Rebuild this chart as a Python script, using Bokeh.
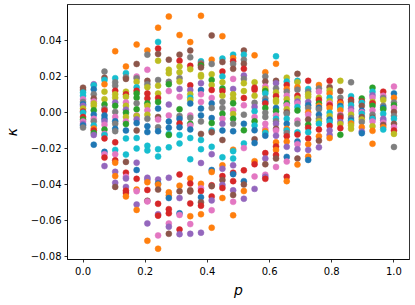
from bokeh.plotting import figure
from bokeh.models import ColumnDataSource, Range1d, FixedTicker
from bokeh.embed import file_html
from bokeh.resources import INLINE

# p values: 30 evenly spaced columns from 0 to 1
p_values = [i / 29 for i in range(30)]

# colour codes (matplotlib tab10 cycle)
palette = {"b": "#1f77b4", "o": "#ff7f0e", "g": "#2ca02c", "r": "#d62728", "u": "#9467bd",
           "n": "#8c564b", "k": "#e377c2", "y": "#7f7f7f", "l": "#bcbd22", "c": "#17becf"}

# kappa values read per column as (kappa, colour code)
col00 = [(0.0137,"n"),(0.0124,"n"),(0.0110,"c"),(0.0092,"c"),(0.0073,"k"),(0.0058,"y"),(0.0045,"b"),(0.0036,"u"),(0.0021,"l"),(0.0005,"r"),(-0.0002,"c"),(-0.0026,"r"),(-0.0040,"g"),(-0.0051,"k"),(-0.0065,"u"),(-0.0073,"b"),(-0.0085,"y")]
col01 = [(0.0156,"u"),(0.0150,"c"),(0.0128,"b"),(0.0100,"y"),(0.0077,"n"),(0.0060,"k"),(0.0049,"l"),(0.0036,"l"),(0.0011,"g"),(-0.0013,"b"),(-0.0036,"k"),(-0.0050,"y"),(-0.0073,"c"),(-0.0090,"o"),(-0.0101,"r"),(-0.0115,"g"),(-0.0126,"u"),(-0.0180,"b")]
col02 = [(0.0227,"y"),(0.0193,"n"),(0.0180,"c"),(0.0156,"o"),(0.0115,"l"),(0.0073,"l"),(0.0043,"g"),(0.0021,"y"),(0.0010,"r"),(-0.0017,"b"),(-0.0036,"b"),(-0.0050,"u"),(-0.0069,"k"),(-0.0096,"g"),(-0.0120,"k"),(-0.0126,"c"),(-0.0145,"r"),(-0.0220,"b"),(-0.0233,"k"),(-0.0252,"r"),(-0.0299,"u")]
col03 = [(0.0340,"o"),(0.0190,"c"),(0.0167,"y"),(0.0148,"y"),(0.0120,"r"),(0.0100,"l"),(0.0081,"l"),(0.0055,"u"),(0.0036,"g"),(0.0002,"y"),(-0.0026,"k"),(-0.0050,"b"),(-0.0064,"y"),(-0.0092,"b"),(-0.0105,"y"),(-0.0167,"r"),(-0.0209,"c"),(-0.0233,"k"),(-0.0267,"r"),(-0.0280,"o"),(-0.0331,"u"),(-0.0355,"o"),(-0.0392,"u"),(-0.0415,"n")]
col04 = [(0.0255,"o"),(0.0218,"c"),(0.0195,"y"),(0.0186,"n"),(0.0115,"l"),(0.0100,"r"),(0.0086,"l"),(0.0055,"k"),(0.0036,"l"),(0.0015,"u"),(-0.0002,"g"),(-0.0026,"l"),(-0.0051,"k"),(-0.0065,"g"),(-0.0101,"b"),(-0.0145,"c"),(-0.0235,"c"),(-0.0276,"n"),(-0.0336,"r"),(-0.0359,"k"),(-0.0368,"u"),(-0.0415,"u"),(-0.0436,"r"),(-0.0449,"r"),(-0.0468,"o")]
col05 = [(0.0377,"o"),(0.0269,"n"),(0.0199,"k"),(0.0190,"y"),(0.0170,"l"),(0.0139,"c"),(0.0120,"r"),(0.0105,"g"),(0.0081,"g"),(0.0050,"y"),(0.0017,"g"),(-0.0017,"k"),(-0.0020,"l"),(-0.0039,"u"),(-0.0060,"b"),(-0.0101,"n"),(-0.0143,"c"),(-0.0201,"c"),(-0.0280,"u"),(-0.0321,"b"),(-0.0370,"r"),(-0.0430,"o"),(-0.0439,"k"),(-0.0513,"u"),(-0.0543,"o")]
col06 = [(0.0344,"o"),(0.0321,"y"),(0.0237,"k"),(0.0175,"n"),(0.0156,"y"),(0.0140,"l"),(0.0105,"r"),(0.0077,"r"),(0.0050,"g"),(0.0036,"l"),(0.0011,"k"),(-0.0013,"l"),(-0.0036,"y"),(-0.0077,"b"),(-0.0110,"b"),(-0.0186,"c"),(-0.0212,"c"),(-0.0364,"u"),(-0.0374,"u"),(-0.0389,"o"),(-0.0432,"r"),(-0.0492,"n"),(-0.0496,"k"),(-0.0618,"u"),(-0.0715,"o")]
col07 = [(0.0471,"o"),(0.0392,"c"),(0.0355,"r"),(0.0325,"n"),(0.0287,"l"),(0.0180,"y"),(0.0148,"l"),(0.0105,"l"),(0.0080,"r"),(0.0058,"g"),(0.0021,"b"),(-0.0026,"n"),(-0.0040,"k"),(-0.0083,"y"),(-0.0105,"b"),(-0.0205,"c"),(-0.0246,"c"),(-0.0374,"u"),(-0.0396,"b"),(-0.0402,"o"),(-0.0430,"n"),(-0.0509,"r"),(-0.0567,"u"),(-0.0575,"r"),(-0.0685,"k"),(-0.0759,"o")]
col08 = [(0.0533,"o"),(0.0293,"n"),(0.0237,"l"),(0.0218,"l"),(0.0170,"y"),(0.0156,"g"),(0.0118,"k"),(0.0043,"u"),(-0.0017,"k"),(-0.0051,"b"),(-0.0086,"b"),(-0.0120,"c"),(-0.0126,"g"),(-0.0195,"c"),(-0.0364,"u"),(-0.0445,"o"),(-0.0462,"o"),(-0.0477,"b"),(-0.0539,"r"),(-0.0562,"r"),(-0.0618,"k"),(-0.0637,"u"),(-0.0676,"n")]
col09 = [(0.0430,"o"),(0.0321,"n"),(0.0287,"r"),(0.0255,"l"),(0.0223,"l"),(0.0190,"y"),(0.0171,"l"),(0.0130,"u"),(0.0086,"k"),(0.0017,"g"),(-0.0020,"y"),(-0.0036,"b"),(-0.0062,"r"),(-0.0083,"b"),(-0.0126,"c"),(-0.0173,"c"),(-0.0346,"r"),(-0.0408,"o"),(-0.0439,"n"),(-0.0477,"u"),(-0.0562,"b"),(-0.0571,"k"),(-0.0652,"r"),(-0.0678,"u")]
col10 = [(0.0391,"o"),(0.0344,"n"),(0.0306,"y"),(0.0259,"r"),(0.0240,"l"),(0.0150,"r"),(0.0124,"u"),(0.0100,"l"),(0.0081,"c"),(0.0068,"l"),(0.0049,"b"),(-0.0017,"k"),(-0.0030,"y"),(-0.0064,"g"),(-0.0073,"k"),(-0.0095,"b"),(-0.0143,"c"),(-0.0261,"c"),(-0.0368,"o"),(-0.0396,"r"),(-0.0434,"n"),(-0.0441,"n"),(-0.0507,"r"),(-0.0578,"o"),(-0.0622,"k"),(-0.0676,"u")]
col11 = [(0.0537,"o"),(0.0284,"c"),(0.0275,"y"),(0.0265,"r"),(0.0261,"g"),(0.0250,"n"),(0.0208,"l"),(0.0199,"l"),(0.0162,"u"),(0.0124,"b"),(0.0100,"k"),(0.0058,"k"),(0.0021,"b"),(-0.0017,"b"),(-0.0051,"y"),(-0.0120,"n"),(-0.0154,"c"),(-0.0205,"c"),(-0.0282,"u"),(-0.0398,"o"),(-0.0423,"k"),(-0.0438,"r"),(-0.0473,"b"),(-0.0501,"n"),(-0.0520,"r"),(-0.0567,"o"),(-0.0670,"u")]
col12 = [(0.0428,"n"),(0.0293,"o"),(0.0269,"y"),(0.0212,"l"),(0.0180,"g"),(0.0152,"l"),(0.0124,"r"),(0.0080,"k"),(0.0049,"b"),(0.0024,"y"),(-0.0032,"b"),(-0.0060,"g"),(-0.0101,"c"),(-0.0111,"n"),(-0.0192,"c"),(-0.0233,"u"),(-0.0321,"b"),(-0.0332,"o"),(-0.0406,"r"),(-0.0411,"n"),(-0.0468,"r"),(-0.0490,"u"),(-0.0545,"k"),(-0.0642,"o")]
col13 = [(0.0424,"o"),(0.0299,"c"),(0.0280,"n"),(0.0227,"r"),(0.0200,"c"),(0.0167,"l"),(0.0133,"g"),(0.0118,"r"),(0.0092,"l"),(0.0058,"y"),(0.0024,"y"),(-0.0008,"g"),(-0.0036,"k"),(-0.0064,"u"),(-0.0101,"b"),(-0.0154,"n"),(-0.0250,"c"),(-0.0295,"o"),(-0.0314,"u"),(-0.0355,"r"),(-0.0377,"n"),(-0.0404,"u"),(-0.0421,"r"),(-0.0477,"o")]
col14 = [(0.0321,"c"),(0.0302,"o"),(0.0284,"r"),(0.0269,"y"),(0.0242,"n"),(0.0186,"k"),(0.0130,"u"),(0.0100,"l"),(0.0077,"l"),(0.0050,"g"),(0.0011,"k"),(-0.0010,"l"),(-0.0036,"g"),(-0.0064,"y"),(-0.0105,"b"),(-0.0208,"o"),(-0.0216,"c"),(-0.0257,"c"),(-0.0295,"u"),(-0.0336,"r"),(-0.0344,"b"),(-0.0383,"r"),(-0.0434,"u"),(-0.0460,"n"),(-0.0498,"k"),(-0.0573,"o")]
col15 = [(0.0344,"n"),(0.0321,"c"),(0.0293,"y"),(0.0270,"n"),(0.0242,"r"),(0.0205,"u"),(0.0186,"y"),(0.0162,"l"),(0.0118,"l"),(0.0080,"r"),(0.0039,"k"),(-0.0013,"y"),(-0.0064,"b"),(-0.0100,"g"),(-0.0173,"c"),(-0.0199,"k"),(-0.0323,"r"),(-0.0383,"b"),(-0.0402,"n"),(-0.0438,"o"),(-0.0481,"u")]
col16 = [(0.0317,"o"),(0.0167,"l"),(0.0137,"r"),(0.0125,"r"),(0.0092,"l"),(0.0053,"y"),(0.0030,"u"),(0.0006,"c"),(-0.0026,"k"),(-0.0050,"g"),(-0.0073,"c"),(-0.0100,"b"),(-0.0150,"n"),(-0.0171,"b"),(-0.0272,"o"),(-0.0289,"r"),(-0.0357,"k"),(-0.0426,"u")]
col17 = [(0.0223,"o"),(0.0199,"y"),(0.0171,"n"),(0.0143,"k"),(0.0130,"l"),(0.0118,"g"),(0.0105,"c"),(0.0077,"y"),(0.0060,"b"),(0.0049,"r"),(0.0024,"g"),(-0.0002,"y"),(-0.0026,"y"),(-0.0064,"k"),(-0.0092,"k"),(-0.0105,"o"),(-0.0115,"c"),(-0.0130,"b"),(-0.0227,"r"),(-0.0257,"u"),(-0.0289,"n"),(-0.0347,"k"),(-0.0359,"u"),(-0.0370,"r")]
col18 = [(0.0312,"c"),(0.0270,"o"),(0.0175,"n"),(0.0162,"u"),(0.0133,"y"),(0.0111,"l"),(0.0090,"r"),(0.0068,"l"),(0.0058,"l"),(0.0024,"b"),(0.0006,"g"),(-0.0017,"k"),(-0.0036,"c"),(-0.0050,"y"),(-0.0064,"u"),(-0.0092,"n"),(-0.0101,"k"),(-0.0130,"u"),(-0.0167,"o"),(-0.0190,"r"),(-0.0209,"o"),(-0.0238,"r"),(-0.0257,"n"),(-0.0304,"k")]
col19 = [(0.0193,"l"),(0.0171,"c"),(0.0152,"r"),(0.0130,"o"),(0.0115,"y"),(0.0092,"k"),(0.0073,"l"),(0.0050,"g"),(0.0039,"k"),(0.0017,"l"),(0.0000,"n"),(-0.0008,"y"),(-0.0036,"c"),(-0.0064,"b"),(-0.0092,"o"),(-0.0101,"c"),(-0.0115,"y"),(-0.0133,"r"),(-0.0163,"o"),(-0.0192,"u"),(-0.0248,"b"),(-0.0274,"k"),(-0.0359,"r"),(-0.0383,"o")]
col20 = [(0.0214,"n"),(0.0175,"c"),(0.0167,"l"),(0.0139,"o"),(0.0126,"y"),(0.0092,"r"),(0.0077,"l"),(0.0060,"u"),(0.0049,"k"),(0.0030,"c"),(0.0010,"g"),(-0.0045,"k"),(-0.0064,"y"),(-0.0111,"c"),(-0.0124,"r"),(-0.0162,"b"),(-0.0177,"k"),(-0.0205,"u"),(-0.0257,"n"),(-0.0291,"o")]
col21 = [(0.0175,"r"),(0.0130,"c"),(0.0115,"y"),(0.0100,"l"),(0.0086,"l"),(0.0058,"u"),(0.0040,"b"),(0.0024,"y"),(0.0000,"o"),(-0.0013,"k"),(-0.0040,"n"),(-0.0069,"g"),(-0.0086,"r"),(-0.0111,"c"),(-0.0145,"r"),(-0.0177,"o"),(-0.0209,"u"),(-0.0246,"o"),(-0.0265,"b")]
col22 = [(0.0152,"o"),(0.0133,"y"),(0.0115,"k"),(0.0081,"l"),(0.0069,"r"),(0.0049,"g"),(0.0036,"o"),(0.0025,"b"),(0.0017,"y"),(-0.0013,"b"),(-0.0036,"y"),(-0.0050,"l"),(-0.0064,"c"),(-0.0096,"r"),(-0.0133,"o"),(-0.0158,"n"),(-0.0195,"u")]
col23 = [(0.0175,"r"),(0.0140,"n"),(0.0122,"l"),(0.0105,"o"),(0.0081,"c"),(0.0062,"l"),(0.0049,"k"),(0.0040,"r"),(0.0024,"o"),(-0.0002,"c"),(-0.0021,"l"),(-0.0040,"b"),(-0.0054,"c"),(-0.0075,"r"),(-0.0101,"u"),(-0.0126,"u"),(-0.0143,"o")]
col24 = [(0.0175,"l"),(0.0118,"n"),(0.0081,"y"),(0.0058,"r"),(0.0049,"o"),(0.0035,"b"),(0.0024,"c"),(0.0011,"o"),(-0.0013,"k"),(-0.0020,"n"),(-0.0032,"r"),(-0.0054,"u"),(-0.0065,"l"),(-0.0088,"r"),(-0.0125,"g")]
col25 = [(0.0167,"y"),(0.0090,"c"),(0.0070,"r"),(0.0058,"n"),(0.0039,"c"),(0.0020,"u"),(0.0006,"k"),(-0.0013,"l"),(-0.0032,"y"),(-0.0045,"b"),(-0.0054,"c"),(-0.0062,"o"),(-0.0073,"l"),(-0.0092,"l")]
col26 = [(0.0077,"g"),(0.0060,"r"),(0.0053,"c"),(0.0036,"n"),(0.0009,"b"),(0.0000,"k"),(-0.0008,"c"),(-0.0026,"n"),(-0.0040,"l"),(-0.0054,"y"),(-0.0083,"o"),(-0.0107,"u"),(-0.0116,"b")]
col27 = [(0.0137,"g"),(0.0115,"c"),(0.0095,"u"),(0.0081,"k"),(0.0058,"l"),(0.0050,"r"),(0.0036,"g"),(0.0011,"k"),(-0.0013,"y"),(-0.0030,"n"),(-0.0036,"c"),(-0.0051,"k"),(-0.0077,"l"),(-0.0103,"o"),(-0.0175,"o")]
col28 = [(0.0115,"r"),(0.0092,"k"),(0.0080,"y"),(0.0068,"l"),(0.0036,"y"),(0.0025,"b"),(0.0017,"g"),(-0.0008,"c"),(-0.0036,"u"),(-0.0045,"u"),(-0.0058,"k"),(-0.0070,"n"),(-0.0083,"o"),(-0.0096,"c")]
col29 = [(0.0143,"k"),(0.0105,"b"),(0.0081,"o"),(0.0055,"y"),(0.0040,"g"),(0.0024,"k"),(0.0002,"n"),(-0.0020,"y"),(-0.0036,"c"),(-0.0064,"n"),(-0.0083,"k"),(-0.0101,"r"),(-0.0120,"l"),(-0.0193,"y")]

columns = [col00, col01, col02, col03, col04, col05, col06, col07, col08, col09,
           col10, col11, col12, col13, col14, col15, col16, col17, col18, col19,
           col20, col21, col22, col23, col24, col25, col26, col27, col28, col29]

x_ticks = [0.0, 0.2, 0.4, 0.6, 0.8, 1.0]
x_tick_labels = ["0.0", "0.2", "0.4", "0.6", "0.8", "1.0"]
y_ticks = [-0.08, -0.06, -0.04, -0.02, 0.0, 0.02, 0.04]
y_tick_labels = ["\u22120.08", "\u22120.06", "\u22120.04", "\u22120.02", "0.00", "0.02", "0.04"]

xs, ys, cs = [], [], []
for p_val, col in zip(p_values, columns):
    for kappa, code in col:
        xs.append(p_val)
        ys.append(kappa)
        cs.append(palette[code])
src = ColumnDataSource(dict(x=xs, y=ys, color=cs))

p = figure(width=410, height=300, output_backend="svg", toolbar_location=None,
           x_range=Range1d(-0.05, 1.05), y_range=Range1d(-0.0819, 0.0600),
           min_border_left=62, min_border_right=1, min_border_top=4, min_border_bottom=40)
p.scatter("x", "y", source=src, size=6, fill_color="color", line_color="color", line_width=0.5)

p.grid.visible = False
p.outline_line_color = "#000000"
p.outline_line_width = 0.8

for ax in (p.xaxis[0], p.yaxis[0]):
    ax.axis_line_color = "#000000"
    ax.axis_line_width = 0.8
    ax.major_tick_line_color = "#000000"
    ax.major_tick_line_width = 0.8
    ax.major_tick_out = 3
    ax.major_tick_in = 0
    ax.minor_tick_line_color = None
    ax.major_label_text_font = "DejaVu Sans"
    ax.major_label_text_font_size = "10px"
    ax.major_label_text_color = "#000000"
    ax.axis_label_text_font = "DejaVu Sans"
    ax.axis_label_text_font_style = "italic"
    ax.axis_label_text_font_size = "14px"
    ax.axis_label_text_color = "#000000"

p.xaxis.ticker = FixedTicker(ticks=x_ticks)
p.xaxis.major_label_overrides = dict(zip(x_ticks, x_tick_labels))
p.yaxis.ticker = FixedTicker(ticks=y_ticks)
p.yaxis.major_label_overrides = dict(zip(y_ticks, y_tick_labels))
p.xaxis.axis_label = "p"
p.yaxis.axis_label = "\u03ba"
p.xaxis.major_label_standoff = 4
p.yaxis.major_label_standoff = 3
p.xaxis.axis_label_standoff = 4
p.yaxis.axis_label_standoff = 8

open("out.html", "w").write(file_html(p, INLINE))
